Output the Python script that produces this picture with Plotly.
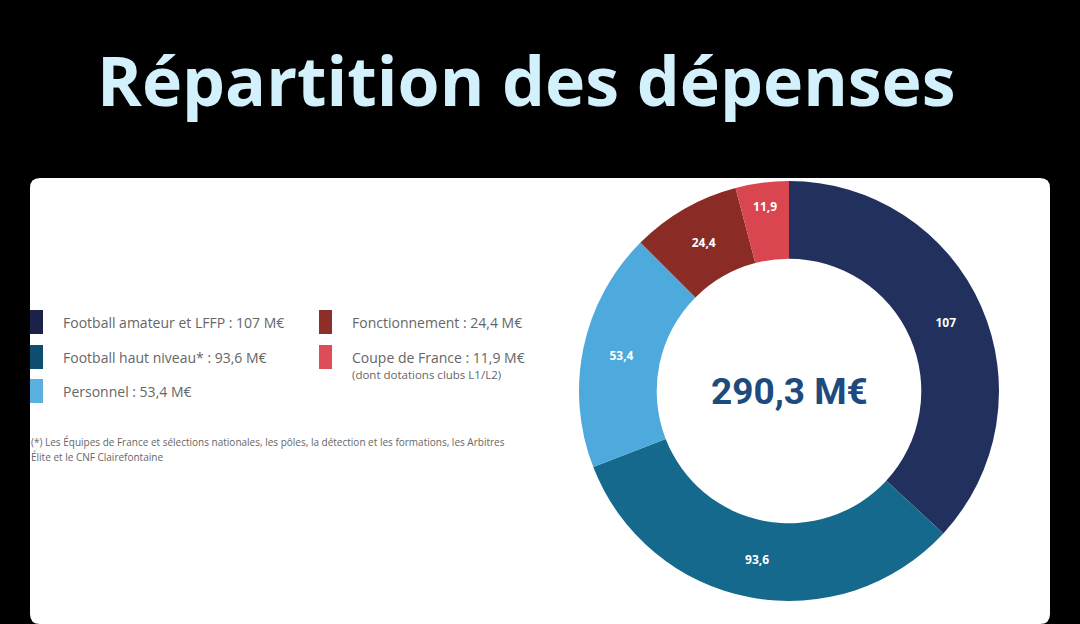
import plotly.graph_objects as go

W, H = 1080, 624

# data
categories = ["Football amateur et LFFP", "Football haut niveau*", "Personnel",
              "Fonctionnement", "Coupe de France"]
values = [107, 93.6, 53.4, 24.4, 11.9]
value_labels = ["107", "93,6", "53,4", "24,4", "11,9"]
slice_colors = ["#22305e", "#15698d", "#4ea9dc", "#8b2b25", "#d9464f"]
legend_colors = ["#1a2248", "#0d4d6e", "#5ab0e0", "#8e2e28", "#dc4d58"]
legend_texts = ["Football amateur et LFFP : 107 M€", "Football haut niveau* : 93,6 M€",
                "Personnel : 53,4 M€", "Fonctionnement : 24,4 M€",
                "Coupe de France : 11,9 M€"]
total_label = "290,3 M€"
title_text = "Répartition des dépenses"
footnote = ["(*) Les Équipes de France et sélections nationales, les pôles, la détection et les formations, les Arbitres",
            "Élite et le CNF Clairefontaine"]


def px(x):
    return x / W


def py(y):
    return 1 - y / H


def rounded_rect(x0, y0, x1, y1, r):
    pts = [
        f"M{px(x0 + r)},{py(y0)}",
        f"L{px(x1 - r)},{py(y0)}",
        f"Q{px(x1)},{py(y0)} {px(x1)},{py(y0 + r)}",
        f"L{px(x1)},{py(y1 - r)}",
        f"Q{px(x1)},{py(y1)} {px(x1 - r)},{py(y1)}",
        f"L{px(x0 + r)},{py(y1)}",
        f"Q{px(x0)},{py(y1)} {px(x0)},{py(y1 - r)}",
        f"L{px(x0)},{py(y0 + r)}",
        f"Q{px(x0)},{py(y0)} {px(x0 + r)},{py(y0)}",
        "Z",
    ]
    return " ".join(pts)


# donut geometry (pixels)
cx, cy, R = 789, 391, 210

fig = go.Figure()
fig.add_trace(go.Pie(
    labels=categories,
    values=values,
    text=value_labels,
    textinfo="text",
    textposition="inside",
    insidetextorientation="horizontal",
    textfont=dict(family="Open Sans, sans-serif", size=12, color="white", weight="bold"),
    marker=dict(colors=slice_colors, line=dict(width=0)),
    hole=0.63,
    sort=False,
    direction="clockwise",
    rotation=0,
    showlegend=False,
    domain=dict(x=[px(cx - R), px(cx + R)], y=[py(cy + R), py(cy - R)]),
    hovertemplate="%{label}: %{value} M€<extra></extra>",
))

shapes = [dict(type="path", path=rounded_rect(30, 178, 1050, 624, 10),
               xref="paper", yref="paper", fillcolor="white", line=dict(width=0),
               layer="below")]

annotations = [
    dict(text=f"<b>{title_text}</b>", x=px(526), y=py(79), xref="paper", yref="paper",
         showarrow=False, xanchor="center", yanchor="middle",
         font=dict(family="Open Sans, sans-serif", size=68, color="#d3f1fd")),
    dict(text=f"<b>{total_label}</b>", x=px(cx), y=py(391), xref="paper", yref="paper",
         showarrow=False, xanchor="center", yanchor="middle",
         font=dict(family="Roboto, sans-serif", size=37, color="#1d4b7d")),
]

# legend boxes and texts
legend_pos = [(30, 322), (30, 357), (30, 391), (319, 322), (319, 357)]
for i, (lx, ly) in enumerate(legend_pos):
    shapes.append(dict(type="rect", xref="paper", yref="paper",
                       x0=px(lx), x1=px(lx + 13), y0=py(ly + 12), y1=py(ly - 12),
                       fillcolor=legend_colors[i], line=dict(width=0)))
    annotations.append(dict(text=legend_texts[i], x=px(lx + 31), y=py(ly),
                            xref="paper", yref="paper", showarrow=False,
                            xanchor="left", yanchor="middle",
                            font=dict(family="Open Sans, sans-serif", size=14, color="#666666")))

annotations.append(dict(text="(dont dotations clubs L1/L2)", x=px(350), y=py(374),
                        xref="paper", yref="paper", showarrow=False,
                        xanchor="left", yanchor="middle",
                        font=dict(family="Open Sans, sans-serif", size=11.5, color="#666666")))

for j, line in enumerate(footnote):
    annotations.append(dict(text=line, x=px(29), y=py(442 + 15 * j),
                            xref="paper", yref="paper", showarrow=False,
                            xanchor="left", yanchor="middle",
                            font=dict(family="Open Sans, sans-serif", size=10, color="#666666")))

fig.update_layout(
    width=W, height=H,
    margin=dict(l=0, r=0, t=0, b=0),
    paper_bgcolor="black",
    plot_bgcolor="black",
    shapes=shapes,
    annotations=annotations,
)

fig.write_html("out.html", config={"displayModeBar": False},
               post_script="document.body.style.margin='0';document.body.style.background='black';")
